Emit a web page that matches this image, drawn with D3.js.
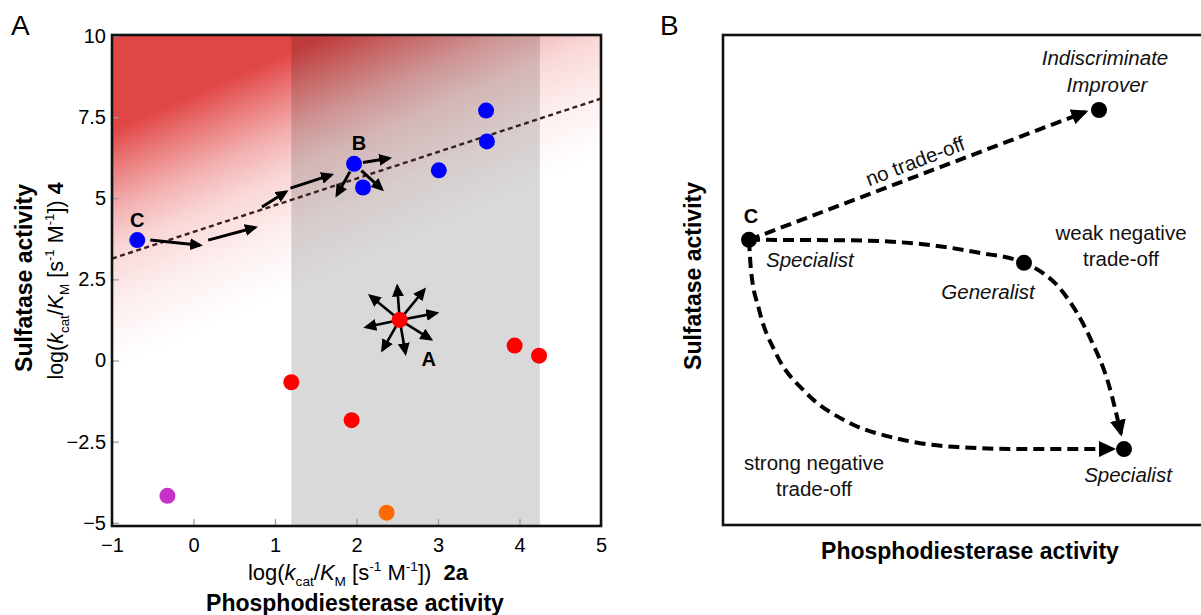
<!DOCTYPE html>
<html>
<head>
<meta charset="utf-8">
<script src="https://cdn.jsdelivr.net/npm/d3@7"></script>
<style>
  body { margin: 0; background: #fff; }
  svg { display: block; font-family: "Liberation Sans", Arial, sans-serif; }
  text { white-space: pre; }
</style>
</head>
<body>
<div id="chart"></div>
<script>
// ---- panel A data (log kcat/KM values) ----
const xTicks = [-1, 0, 1, 2, 3, 4, 5];
const yTicks = [-5, -2.5, 0, 2.5, 5, 7.5, 10];
const yTickLabels = ["\u22125", "\u22122.5", "0", "2.5", "5", "7.5", "10"];

const bluePoints = [[-0.69, 3.71], [1.97, 6.06], [2.08, 5.33], [3.01, 5.86], [3.59, 7.70], [3.60, 6.75]];
const redPoints = [[2.53, 1.25], [3.94, 0.46], [4.24, 0.15], [1.20, -0.67], [1.94, -1.84]];
const orangePoints = [[2.37, -4.69]];
const purplePoints = [[-0.32, -4.17]];

const grayBand = [1.2, 4.25];
const trendLine = [[-1, 3.14], [5, 8.07]];

// evolution arrows: [x1, y1, x2, y2]
const chainArrows = [
  [-0.53, 3.71, 0.08, 3.55],
  [0.18, 3.71, 0.755, 4.10],
  [0.84, 4.73, 1.135, 5.20],
  [1.19, 5.31, 1.69, 5.72],
  [2.08, 6.10, 2.40, 6.23],
  [1.92, 5.82, 1.76, 5.10],
  [2.06, 5.85, 2.31, 5.28]
];
const starCenter = [2.53, 1.25];
const starTips = [[2.50, 2.28], [2.83, 2.18], [2.98, 1.46], [2.91, 0.66], [2.60, 0.23], [2.32, 0.33], [2.12, 1.03], [2.17, 1.99]];

const pointLabels = [
  { text: "C", at: [-0.69, 3.71], dx: 0, dy: -20 },
  { text: "B", at: [1.97, 6.06], dx: 5, dy: -21 },
  { text: "A", at: [2.53, 1.25], dx: 29, dy: 39 }
];

// ---- panel B data (conceptual 0-100 units) ----
const bNodes = [
  { name: "C", x: 5.2, y: 58.2 },
  { name: "Improver", x: 75.2, y: 84.7 },
  { name: "Generalist", x: 60.2, y: 53.5 },
  { name: "Specialist", x: 80.2, y: 15.5 }
];
const noTradeOff = [[5.2, 58.2], [72.5, 84.3]];
const weakPath = [[5.2, 58.2], [25.0, 58.1], [40.0, 57.3], [51.0, 55.6], [60.2, 53.5], [68.0, 47.5], [73.5, 38.0], [77.2, 28.5], [79.6, 18.6]];
const strongPath = [[5.2, 58.2], [5.6, 52.0], [7.2, 44.0], [10.6, 35.0], [16.6, 27.0], [25.0, 21.0], [35.0, 17.6], [47.0, 15.9], [60.0, 15.5], [78.0, 15.5]];
const bTexts = [
  { t: "Indiscriminate", x: 76.4, y: 95.3, style: "italic" },
  { t: "Improver", x: 76.8, y: 89.8, style: "italic" },
  { t: "weak negative", x: 79.6, y: 59.6 },
  { t: "trade-off", x: 79.6, y: 54.3 },
  { t: "Generalist", x: 53.0, y: 47.6, style: "italic" },
  { t: "strong negative", x: 18.2, y: 12.7 },
  { t: "trade-off", x: 18.2, y: 7.5 },
  { t: "Specialist", x: 81.0, y: 10.2, style: "italic" }
];

const width = 1201, height = 615;
const svg = d3.select("#chart").append("svg")
  .attr("width", width)
  .attr("height", height);
const defs = svg.append("defs");

function addMarker(id, len, half, refX) {
  defs.append("marker")
    .attr("id", id)
    .attr("markerUnits", "userSpaceOnUse")
    .attr("viewBox", `0 ${-half} ${len} ${2 * half}`)
    .attr("markerWidth", len)
    .attr("markerHeight", 2 * half)
    .attr("refX", refX)
    .attr("refY", 0)
    .attr("orient", "auto")
    .append("path")
    .attr("d", `M0,${-half}L${len},0L0,${half}Z`)
    .attr("fill", "#000");
}
addMarker("headA", 13, 6, 10);
addMarker("headB", 17, 8, 14);

// rich text helper for sub/superscripts
function richText(sel, parts, size) {
  let shift = 0;
  parts.forEach(p => {
    let target = 0, fs = size;
    if (p.sub) { target = size * 0.28; fs = size * 0.62; }
    if (p.sup) { target = -size * 0.4; fs = size * 0.62; }
    sel.append("tspan")
      .attr("dy", target - shift)
      .attr("font-size", fs)
      .attr("font-style", p.i ? "italic" : null)
      .attr("font-weight", p.b ? "bold" : null)
      .text(p.t);
    shift = target;
  });
}

// ================= Panel A =================
const x = d3.scaleLinear().domain([-1, 5]).range([112, 601]);
const y = d3.scaleLinear().domain([-5.1, 10.03]).range([526, 35]);
const gA = svg.append("g");

defs.append("clipPath").attr("id", "clipA")
  .append("rect")
  .attr("x", x(-1)).attr("y", y(10.03))
  .attr("width", x(5) - x(-1)).attr("height", y(-5.1) - y(10.03));

// red background gradient running across the trade-off line
const grad = defs.append("linearGradient")
  .attr("id", "redGrad")
  .attr("gradientUnits", "userSpaceOnUse")
  .attr("x1", x(-1)).attr("y1", y(7.1))
  .attr("x2", x(-1) + 88.5).attr("y2", y(7.1) + 201);
[[0, "#e14646"], [0.15, "#ea7878"], [0.33, "#f3b0b0"], [0.5, "#f9d6d6"], [0.75, "#fdf0f0"], [1, "#ffffff"]]
  .forEach(s => grad.append("stop").attr("offset", s[0]).attr("stop-color", s[1]));

const plot = gA.append("g").attr("clip-path", "url(#clipA)");
plot.append("rect")
  .attr("x", x(-1)).attr("y", y(10.03))
  .attr("width", x(5) - x(-1)).attr("height", y(-5.1) - y(10.03))
  .attr("fill", "url(#redGrad)");

plot.append("rect")
  .attr("x", x(grayBand[0])).attr("y", y(10.03))
  .attr("width", x(grayBand[1]) - x(grayBand[0]))
  .attr("height", y(-5.1) - y(10.03))
  .attr("fill", "#000")
  .attr("fill-opacity", 0.15);

plot.append("line")
  .attr("x1", x(trendLine[0][0])).attr("y1", y(trendLine[0][1]))
  .attr("x2", x(trendLine[1][0])).attr("y2", y(trendLine[1][1]))
  .attr("stroke", "#3a1f1f")
  .attr("stroke-width", 2.4)
  .attr("stroke-dasharray", "5,3.5");

// arrows
plot.selectAll(".chain").data(chainArrows).enter().append("line")
  .attr("x1", d => x(d[0])).attr("y1", d => y(d[1]))
  .attr("x2", d => x(d[2])).attr("y2", d => y(d[3]))
  .attr("stroke", "#000").attr("stroke-width", 3)
  .attr("marker-end", "url(#headA)");

plot.selectAll(".star").data(starTips).enter().append("line")
  .attr("x1", x(starCenter[0])).attr("y1", y(starCenter[1]))
  .attr("x2", d => x(d[0])).attr("y2", d => y(d[1]))
  .attr("stroke", "#000").attr("stroke-width", 2.6)
  .attr("marker-end", "url(#headA)");

// points
function drawPoints(data, color) {
  plot.selectAll(null).data(data).enter().append("circle")
    .attr("cx", d => x(d[0])).attr("cy", d => y(d[1]))
    .attr("r", 8)
    .attr("fill", color);
}
drawPoints(bluePoints, "#0000ff");
drawPoints(redPoints, "#ff0000");
drawPoints(orangePoints, "#ff6a00");
drawPoints(purplePoints, "#c832c8");

gA.selectAll(".plabel").data(pointLabels).enter().append("text")
  .attr("x", d => x(d.at[0]) + d.dx)
  .attr("y", d => y(d.at[1]) + d.dy)
  .attr("dy", "0.36em")
  .attr("text-anchor", "middle")
  .attr("font-size", 20)
  .attr("font-weight", "bold")
  .text(d => d.text);

// axes (inward ticks)
const xAxis = gA.append("g")
  .attr("transform", `translate(0,${y(-5.1)})`)
  .call(d3.axisBottom(x).tickValues(xTicks).tickSizeInner(-7).tickSizeOuter(0).tickPadding(12)
    .tickFormat(d3.format("")));
const yAxis = gA.append("g")
  .attr("transform", `translate(${x(-1)},0)`)
  .call(d3.axisLeft(y).tickValues(yTicks).tickSizeInner(-7).tickSizeOuter(0).tickPadding(6)
    .tickFormat((d, i) => yTickLabels[i]));
[xAxis, yAxis].forEach(a => {
  a.select(".domain").remove();
  a.selectAll(".tick line").attr("stroke", "#999").attr("stroke-width", 1.2);
  a.selectAll(".tick text").attr("font-size", 20).attr("fill", "#000")
    .attr("font-family", "'Liberation Sans', Arial, sans-serif");
});

gA.append("rect")
  .attr("x", x(-1)).attr("y", y(10.03))
  .attr("width", x(5) - x(-1)).attr("height", y(-5.1) - y(10.03))
  .attr("fill", "none").attr("stroke", "#111").attr("stroke-width", 2.6);

const logParts = (tail) => [
  { t: "log(" }, { t: "k", i: true }, { t: "cat", sub: true }, { t: "/" },
  { t: "K", i: true }, { t: "M", sub: true }, { t: " [s" }, { t: "-1", sup: true },
  { t: " M" }, { t: "-1", sup: true }, { t: "])" + tail.sp }, { t: tail.t, b: true }
];

const xLab = gA.append("text")
  .attr("x", 358).attr("y", 580)
  .attr("text-anchor", "middle")
  .attr("font-size", 22);
richText(xLab, logParts({ sp: "  ", t: "2a" }), 22);

gA.append("text")
  .attr("x", 355).attr("y", 611)
  .attr("text-anchor", "middle")
  .attr("font-size", 23).attr("font-weight", "bold")
  .text("Phosphodiesterase activity");

gA.append("text")
  .attr("transform", "translate(32,278) rotate(-90)")
  .attr("text-anchor", "middle")
  .attr("font-size", 23).attr("font-weight", "bold")
  .text("Sulfatase activity");

const yLab = gA.append("text")
  .attr("transform", "translate(63,281) rotate(-90)")
  .attr("text-anchor", "middle")
  .attr("font-size", 21.5);
richText(yLab, logParts({ sp: " ", t: "4" }), 21.5);

svg.append("text").attr("x", 11).attr("y", 35)
  .attr("font-size", 28).text("A");

// ================= Panel B =================
const xB = d3.scaleLinear().domain([0, 100]).range([723, 1223]);
const yB = d3.scaleLinear().domain([0, 100]).range([525, 35]);
const gB = svg.append("g");

gB.append("rect")
  .attr("x", xB(0)).attr("y", yB(100))
  .attr("width", xB(100) - xB(0)).attr("height", yB(0) - yB(100))
  .attr("fill", "none").attr("stroke", "#111").attr("stroke-width", 2.6);

const lineB = d3.line().x(d => xB(d[0])).y(d => yB(d[1])).curve(d3.curveMonotoneX);
[noTradeOff, weakPath, strongPath].forEach(p => {
  gB.append("path")
    .attr("d", lineB(p))
    .attr("fill", "none")
    .attr("stroke", "#000")
    .attr("stroke-width", 4)
    .attr("stroke-dasharray", "11,6")
    .attr("marker-end", "url(#headB)");
});

gB.selectAll(".node").data(bNodes).enter().append("circle")
  .attr("cx", d => xB(d.x)).attr("cy", d => yB(d.y))
  .attr("r", 8).attr("fill", "#000");

gB.selectAll(".btext").data(bTexts).enter().append("text")
  .attr("x", d => xB(d.x)).attr("y", d => yB(d.y))
  .attr("dy", "0.36em")
  .attr("text-anchor", "middle")
  .attr("font-size", 20.5)
  .attr("font-style", d => d.style || null)
  .attr("fill", "#111")
  .text(d => d.t);

gB.append("text")
  .attr("x", xB(8.6)).attr("y", yB(54.1)).attr("dy", "0.36em")
  .attr("font-size", 20.5).attr("font-style", "italic").attr("fill", "#111")
  .text("Specialist");

gB.append("text")
  .attr("x", xB(5.6)).attr("y", yB(63.1)).attr("dy", "0.36em")
  .attr("text-anchor", "middle")
  .attr("font-size", 20).attr("font-weight", "bold")
  .text("C");

gB.append("text")
  .attr("transform", `translate(${xB(38.4)},${yB(74.3)}) rotate(-21)`)
  .attr("dy", "0.36em")
  .attr("text-anchor", "middle")
  .attr("font-size", 20.5).attr("fill", "#111")
  .text("no trade-off");

gB.append("text")
  .attr("x", 970).attr("y", 559)
  .attr("text-anchor", "middle")
  .attr("font-size", 23).attr("font-weight", "bold")
  .text("Phosphodiesterase activity");

gB.append("text")
  .attr("transform", "translate(701,276) rotate(-90)")
  .attr("text-anchor", "middle")
  .attr("font-size", 23).attr("font-weight", "bold")
  .text("Sulfatase activity");

svg.append("text").attr("x", 660).attr("y", 35)
  .attr("font-size", 28).text("B");
</script>
</body>
</html>
